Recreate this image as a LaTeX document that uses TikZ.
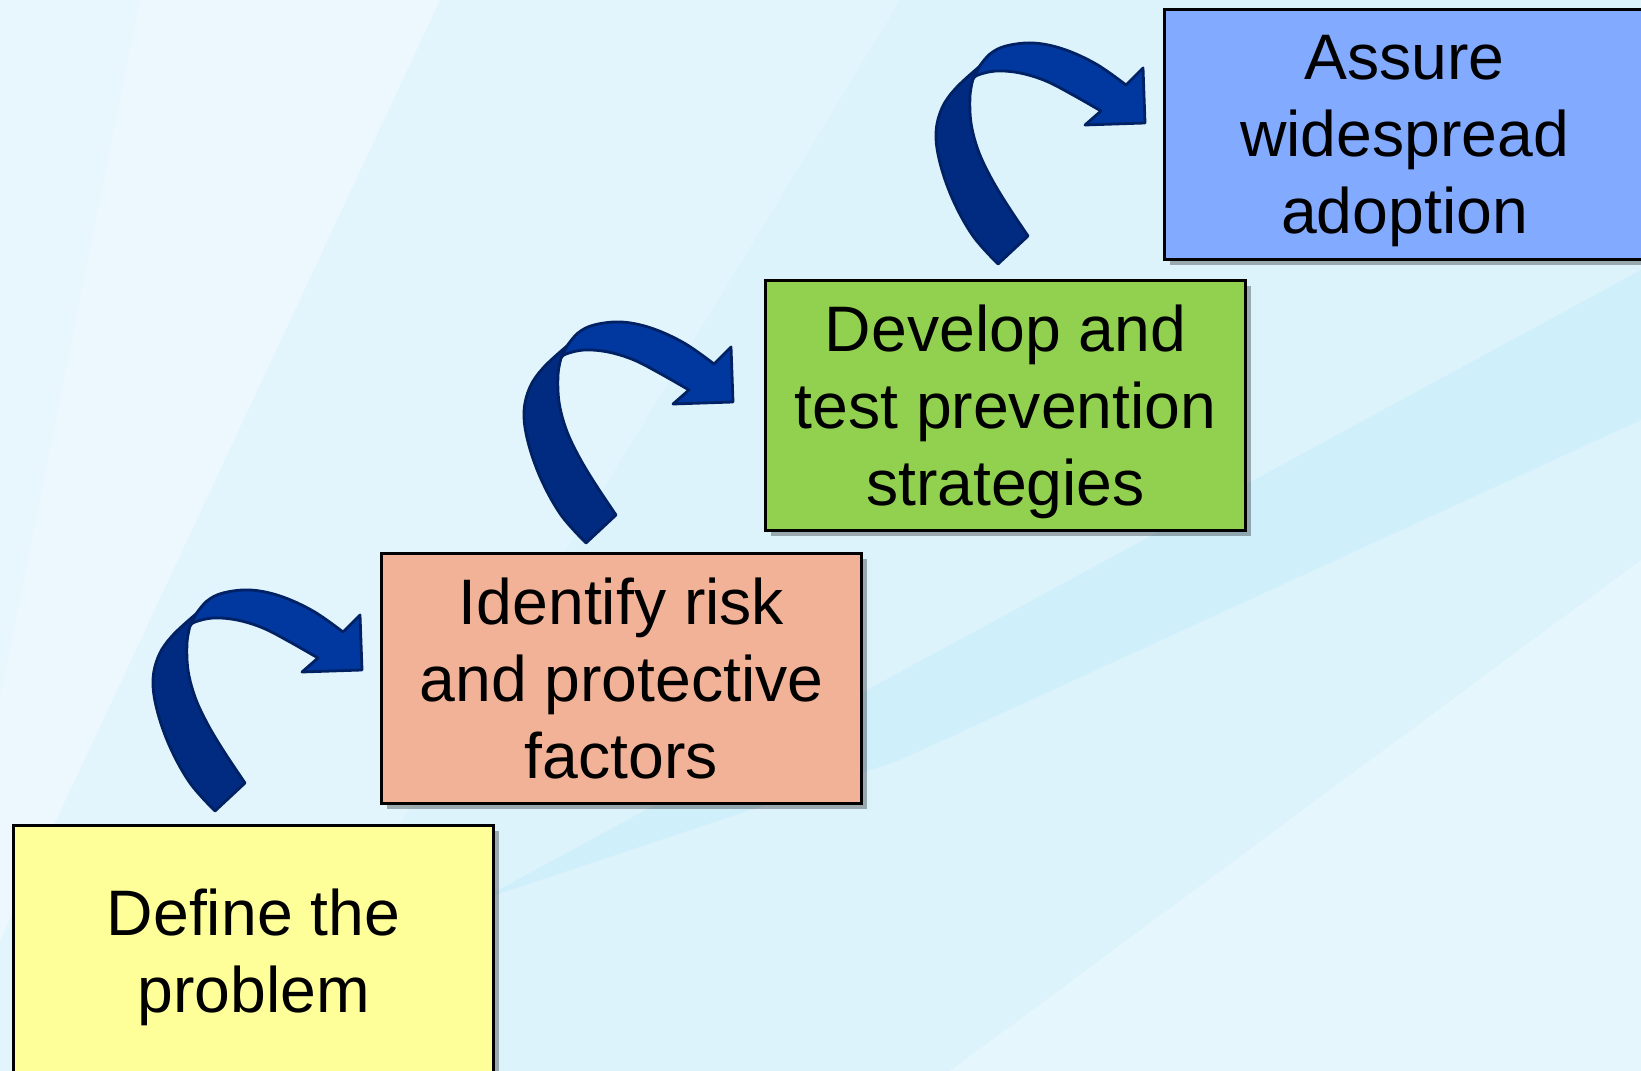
\documentclass[tikz,border=0pt]{standalone}
\usepackage{fontspec}
\setmainfont{Liberation Sans}
\usetikzlibrary{shadows,calc}
\definecolor{bgbase}{HTML}{DDF3FC}
\definecolor{bgband}{HTML}{C4ECFA}
\definecolor{arrfront}{HTML}{0038A0}
\definecolor{arrback}{HTML}{002B80}
\definecolor{arrline}{HTML}{002164}
\definecolor{boxyellow}{HTML}{FFFF99}
\definecolor{boxorange}{HTML}{F1B297}
\definecolor{boxgreen}{HTML}{92D050}
\definecolor{boxblue}{HTML}{82AAFF}
\tikzset{
  stepbox/.style={draw=black, line width=0.3mm, anchor=north west, inner sep=0pt,
    minimum width=48mm, minimum height=25mm, align=center, text depth=0pt,
    font=\fontsize{18.3}{21.9}\selectfont,
    drop shadow={shadow xshift=0.5mm, shadow yshift=-0.6mm, opacity=0.3, fill=black}},
  arrpart/.style={draw=arrline, line width=0.28mm, line join=round},
  curvearrow/.pic={
    \path[arrpart, fill=arrback]
      plot[smooth, tension=0.6] coordinates {(-147,141) (-172,113) (-192,77) (-205,40) (-209,10) (-203,-15) (-189,-35) (-166,-56)}
      -- (-172,-44)
      -- plot[smooth, tension=0.6] coordinates {(-172,-44) (-175,-27) (-174,0) (-167,27) (-155,53) (-139,80) (-117,113)}
      -- cycle;
    \path[arrpart, fill=arrfront]
      plot[smooth, tension=0.6] coordinates {(-166,-56) (-155,-69) (-139,-77) (-112,-80) (-82,-74) (-49,-59) (-19,-38)}
      -- (-2,-55) -- (0,0) -- (-60,2) -- (-44,-12)
      -- plot[smooth, tension=0.6] coordinates {(-44,-12) (-72,-28) (-99,-42) (-125,-50) (-149,-52) (-167,-48) (-172,-44)}
      -- cycle;
  }
}
\begin{document}
\begin{tikzpicture}[x=0.1mm, y=-0.1mm]
\useasboundingbox (0,0) rectangle (1641,1071);
\clip (0,0) rectangle (1641,1071);
% background
\fill[bgbase] (0,0) rectangle (1641,1071);
\fill[white, opacity=0.35] (0,0) -- (440,0) -- (0,940) -- cycle;
\fill[white, opacity=0.2] (140,0) -- (900,0) -- (250,1071) -- (0,1071) -- (0,700) -- cycle;
\fill[bgband, opacity=0.55] (480,900) -- (1641,270) -- (1641,420) -- (900,760) -- cycle;
\fill[white, opacity=0.25] (950,1071) -- (1641,560) -- (1641,1071) -- cycle;
% boxes
\node[stepbox, fill=boxyellow] (define) at (12,824) {Define the\\problem};
\node[stepbox, fill=boxorange] (identify) at (380,552) {Identify risk\\and protective\\factors};
\node[stepbox, fill=boxgreen] (develop) at (764,279) {Develop and\\test prevention\\strategies};
\node[stepbox, fill=boxblue] (assure) at (1163,8) {Assure\\widespread\\adoption};
% curved arrows
\coordinate (tip1) at (362,670);
\coordinate (tip2) at (733,402);
\coordinate (tip3) at (1145,123);
\pic at (tip1) {curvearrow};
\pic at (tip2) {curvearrow};
\pic at (tip3) {curvearrow};
\end{tikzpicture}
\end{document}
